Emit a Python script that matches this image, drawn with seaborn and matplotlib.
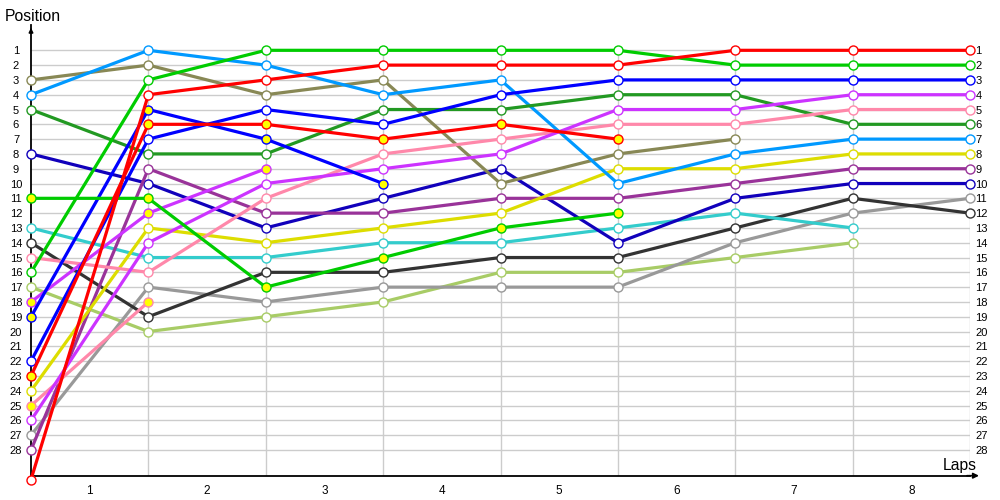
import numpy as np
import matplotlib
matplotlib.use("Agg")
import matplotlib.pyplot as plt
import seaborn as sns

# lap boundaries (0 = grid)
laps = [0, 1, 2, 3, 4, 5, 6, 7, 8]
lap_labels = ["1", "2", "3", "4", "5", "6", "7", "8"]
positions = list(range(1, 29))

# position of each car at the end of every lap
red_1 = [30, 4, 3, 2, 2, 2, 1, 1, 1]
red_2 = [23, 6, 6, 7, 6, 7]
green_1 = [16, 3, 1, 1, 1, 1, 2, 2, 2]
green_2 = [11, 11, 17, 15, 13, 12]
blue_1 = [22, 7, 5, 6, 4, 3, 3, 3, 3]
blue_2 = [19, 5, 7, 10]
magenta_1 = [26, 14, 10, 9, 8, 5, 5, 4, 4]
magenta_2 = [18, 12, 9]
pink_1 = [15, 16, 11, 8, 7, 6, 6, 5, 5]
pink_2 = [25, 18]
dark_green = [5, 8, 8, 5, 5, 4, 4, 6, 6]
light_blue = [4, 1, 2, 4, 3, 10, 8, 7, 7]
olive = [3, 2, 4, 3, 10, 8, 7]
yellow = [24, 13, 14, 13, 12, 9, 9, 8, 8]
purple = [28, 9, 12, 12, 11, 11, 10, 9, 9]
dark_blue = [8, 10, 13, 11, 9, 14, 11, 10, 10]
black = [14, 19, 16, 16, 15, 15, 13, 11, 12]
gray = [27, 17, 18, 17, 17, 17, 14, 12, 11]
cyan = [13, 15, 15, 14, 14, 13, 12, 13]
light_green = [17, 20, 19, 18, 16, 16, 15, 14]

# (series, line colour, marker fill)
cars = [
    (light_green, "#a8cc66", "white"),
    (gray, "#999999", "white"),
    (black, "#333333", "white"),
    (cyan, "#33cccc", "white"),
    (dark_blue, "#1100bb", "white"),
    (purple, "#993399", "white"),
    (yellow, "#dddd00", "white"),
    (olive, "#888855", "white"),
    (light_blue, "#0099ff", "white"),
    (dark_green, "#229922", "white"),
    (pink_2, "#ff88aa", "#ffff00"),
    (pink_1, "#ff88aa", "white"),
    (magenta_2, "#cc33ff", "#ffff00"),
    (magenta_1, "#cc33ff", "white"),
    (blue_2, "#0000ff", "#ffff00"),
    (blue_1, "#0000ff", "white"),
    (green_2, "#00cc00", "#ffff00"),
    (green_1, "#00cc00", "white"),
    (red_2, "#ff0000", "#ffff00"),
    (red_1, "#ff0000", "white"),
]

sns.set_theme(style="white")
plt.rcParams["font.family"] = ["Liberation Sans", "DejaVu Sans"]

y_bottom, y_top = 29.74, -0.71

fig = plt.figure(figsize=(10, 5), dpi=100)
ax = fig.add_axes([0.031, 0.0486, 0.939, 0.9014])

for pos, col, fill in cars:
    sns.lineplot(x=laps[:len(pos)], y=pos, ax=ax, color=col, lw=2.3,
                 marker="o", markersize=6.5, markerfacecolor=fill,
                 markeredgecolor=col, markeredgewidth=1.0, clip_on=False,
                 zorder=3)

ax.set_xlim(0, 8)
ax.set_ylim(y_bottom, y_top)

# grid
ax.set_yticks(positions)
ax.yaxis.grid(True, color="#cccccc", lw=1)
ax.vlines(laps[1:], 0.8, y_bottom, color="#cccccc", lw=1, zorder=0)

sns.despine(ax=ax, top=True, right=True)
ax.spines["left"].set_color("black")
ax.spines["bottom"].set_color("black")
ax.spines["left"].set_linewidth(1.3)
ax.spines["bottom"].set_linewidth(1.3)

ax.set_xticks([l + 0.5 for l in laps[:-1]])
ax.set_xticklabels(lap_labels)
ax.tick_params(axis="x", length=0, pad=7, labelsize=8.5, colors="black")
ax.tick_params(axis="y", length=0, pad=10.8, labelsize=8, colors="black")
for t in ax.get_yticklabels():
    t.set_ha("center")
ax.set_xlabel("")
ax.set_ylabel("")

sec = ax.secondary_yaxis("right")
sec.set_yticks(positions)
sec.tick_params(length=0, pad=4, labelsize=8, colors="black")
sec.spines["right"].set_visible(False)

# axis arrows
ax.annotate("", xy=(0, y_top), xytext=(0, y_top + 0.6), annotation_clip=False,
            arrowprops=dict(arrowstyle="-|>", color="black", lw=1.2, mutation_scale=6))
ax.annotate("", xy=(8.1, y_bottom), xytext=(7.95, y_bottom), annotation_clip=False,
            arrowprops=dict(arrowstyle="-|>", color="black", lw=1.2, mutation_scale=8))

fig.text(0.005, 0.958, "Position", fontsize=11.3, va="baseline", ha="left", color="black")
fig.text(0.943, 0.06, "Laps", fontsize=11.3, va="baseline", ha="left", color="black")

fig.savefig("out.png", dpi=100)
